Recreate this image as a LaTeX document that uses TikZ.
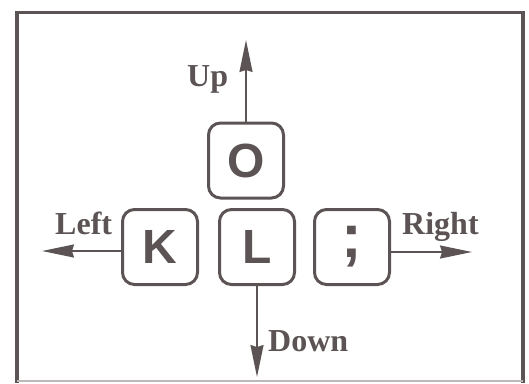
\documentclass[tikz,border=0pt]{standalone}
\usepackage{fontspec}
\setmainfont{Liberation Serif}
\newfontfamily\keyfont{Liberation Sans}
\usetikzlibrary{arrows.meta}
\definecolor{ink}{RGB}{92,84,84}
\definecolor{faint}{RGB}{190,185,185}
\tikzset{
  keybox/.style={draw=ink, line width=3pt, rounded corners=12pt, minimum width=75pt, minimum height=75pt, inner sep=0pt, text=ink, font=\keyfont\bfseries\fontsize{48}{52}\selectfont},
  arr/.style={draw=ink, line width=1.6pt, -{Stealth[length=32pt, width=13pt, inset=2pt]}},
  lbl/.style={anchor=base west, inner sep=0pt, text=ink, font=\bfseries\fontsize{32}{36}\selectfont},
  frame/.style={draw=ink, line width=3.5pt}
}
\begin{document}
\begin{tikzpicture}[x=1pt,y=-1pt]
\useasboundingbox (0,0) rectangle (529,383);
% frame
\draw[frame] (17,383) -- (17,12.5) -- (523,12.5) -- (523,383);
\draw[faint, line width=1.5pt] (17,381) -- (523,381);
% keys
\node[keybox] (O) at (246,160.5) {O};
\node[keybox] (K) at (160,247) {K};
\node[keybox] (L) at (257,247) {L};
\node[keybox] (semi) at (352,247) {\raisebox{-6pt}{\fontsize{62}{64}\selectfont;}};
% arrow tips
\coordinate (upT) at (246,40);
\coordinate (lefT) at (42,251);
\coordinate (rigT) at (472,252);
\coordinate (dnT) at (257,377);
% arrows
\draw[arr] (O.north) -- (upT);
\draw[arr] (K.west |- lefT) -- (lefT);
\draw[arr] (semi.east |- rigT) -- (rigT);
\draw[arr] (L.south) -- (dnT);
% labels
\node[lbl] (up) at (187,86) {Up};
\node[lbl] (left) at (55,234) {Left};
\node[lbl] (right) at (402,234) {Right};
\node[lbl] (down) at (268,351) {Down};
\end{tikzpicture}
\end{document}
